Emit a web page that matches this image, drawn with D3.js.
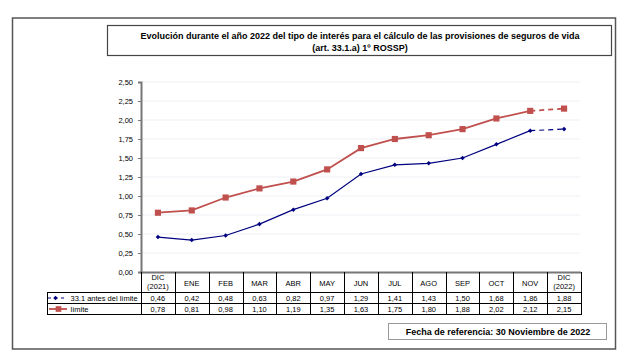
<!DOCTYPE html>
<html>
<head>
<meta charset="utf-8">
<script src="https://cdn.jsdelivr.net/npm/d3@7"></script>
<style>
  body { margin: 0; background: #fff; }
  svg { display: block; }
  text { font-family: Arial, "Liberation Sans", sans-serif; fill: #000; }
</style>
</head>
<body>
<div id="chart"></div>
<script>
// Tipos de interés 2022 (art. 33.1.a ROSSP)
const months = ['DIC|(2021)', 'ENE', 'FEB', 'MAR', 'ABR', 'MAY', 'JUN', 'JUL', 'AGO', 'SEP', 'OCT', 'NOV', 'DIC|(2022)'];
const antesLimite = [0.46, 0.42, 0.48, 0.63, 0.82, 0.97, 1.29, 1.41, 1.43, 1.50, 1.68, 1.86, 1.88];
const limite = [0.78, 0.81, 0.98, 1.10, 1.19, 1.35, 1.63, 1.75, 1.80, 1.88, 2.02, 2.12, 2.15];
const yTicks = [0, 0.25, 0.5, 0.75, 1, 1.25, 1.5, 1.75, 2, 2.25, 2.5];
const seriesNames = ['33.1 antes del límite', 'límite'];

const W = 628, H = 364;
const BLUE = '#000080', RED = '#c0504d';

const esLocale = d3.formatLocale({ decimal: ',', thousands: '.', grouping: [3], currency: ['', ' €'] });
const fmt = esLocale.format('.2f');

const svg = d3.select('#chart').append('svg')
  .attr('width', W)
  .attr('height', H);

// outer frame
svg.append('rect')
  .attr('x', 12.5).attr('y', 18)
  .attr('width', 603).attr('height', 331)
  .attr('fill', '#fff')
  .attr('stroke', '#555')
  .attr('stroke-width', 1.5);

// title box
svg.append('rect')
  .attr('x', 107.5).attr('y', 25.5)
  .attr('width', 504).attr('height', 30)
  .attr('fill', '#fff')
  .attr('stroke', '#444')
  .attr('stroke-width', 1.2);

const titleLines = [
  ['Evolución durante el año 2022 del tipo de interés para el cálculo de las provisiones de seguros de vida', 38.5],
  ['(art. 33.1.a) 1º ROSSP)', 51]
];
svg.append('g')
  .selectAll('text')
  .data(titleLines)
  .join('text')
  .attr('x', 360)
  .attr('y', d => d[1])
  .attr('text-anchor', 'middle')
  .style('font-weight', 'bold')
  .style('font-size', '9px')
  .text(d => d[0]);

// scales
const x = d3.scaleBand()
  .domain(months)
  .range([141, 581])
  .padding(0);

const y = d3.scaleLinear()
  .domain([0, 2.5])
  .range([272, 82]);

const cx = d => x(d) + x.bandwidth() / 2;

// grid
svg.append('g')
  .selectAll('line')
  .data(yTicks.slice(1))
  .join('line')
  .attr('x1', 142).attr('x2', 580)
  .attr('y1', d => y(d)).attr('y2', d => y(d))
  .attr('stroke', '#eceff4')
  .attr('stroke-width', 1);

// y axis
const yAxis = svg.append('g')
  .attr('transform', 'translate(141,0)')
  .call(d3.axisLeft(y).tickValues(yTicks).tickFormat(fmt).tickSizeOuter(0).tickSize(3).tickPadding(5));
yAxis.select('.domain').attr('stroke', '#777').attr('stroke-width', 2);
yAxis.selectAll('.tick line').attr('stroke', '#777');
yAxis.selectAll('.tick text').style('font-size', '7.5px').attr('fill', '#000');

// x axis base line
svg.append('line')
  .attr('x1', 140).attr('x2', 581)
  .attr('y1', 272.5).attr('y2', 272.5)
  .attr('stroke', '#777')
  .attr('stroke-width', 2);

// lines
const drawSeries = (values, color, width, marker) => {
  const pts = months.map((m, i) => [cx(m), y(values[i])]);
  const g = svg.append('g');
  g.append('path')
    .datum(pts.slice(0, 12))
    .attr('d', d3.line())
    .attr('fill', 'none')
    .attr('stroke', color)
    .attr('stroke-width', width);
  g.append('path')
    .datum(pts.slice(11))
    .attr('d', d3.line())
    .attr('fill', 'none')
    .attr('stroke', color)
    .attr('stroke-width', width)
    .attr('stroke-dasharray', '5,4');
  g.selectAll('path.mk')
    .data(pts)
    .join('path')
    .attr('class', 'mk')
    .attr('transform', d => `translate(${d[0]},${d[1]})`)
    .attr('d', marker)
    .attr('fill', color);
};

const diamond = d3.symbol(d3.symbolDiamond2, 13)();
drawSeries(limite, RED, 1.8, d3.symbol(d3.symbolSquare, 38)());
drawSeries(antesLimite, BLUE, 1.2, diamond);

// data table
const rowTop = [272, 292, 303, 314];
const table = svg.append('g');

// header labels
months.forEach(m => {
  const parts = m.split('|');
  const t = table.append('text')
    .attr('text-anchor', 'middle')
    .style('font-size', '7.5px');
  if (parts.length === 2) {
    t.append('tspan').attr('x', cx(m)).attr('y', 280).text(parts[0]);
    t.append('tspan').attr('x', cx(m)).attr('y', 289).text(parts[1]);
  } else {
    t.append('tspan').attr('x', cx(m)).attr('y', 285.5).text(parts[0]);
  }
});

// vertical borders
const edges = months.map(m => x(m)).concat([x.range()[1]]);
table.selectAll('line.v')
  .data(edges)
  .join('line')
  .attr('class', 'v')
  .attr('x1', d => Math.round(d) + 0.5)
  .attr('x2', d => Math.round(d) + 0.5)
  .attr('y1', rowTop[0]).attr('y2', rowTop[3])
  .attr('stroke', '#000').attr('stroke-width', 1);

// horizontal borders
[rowTop[1], rowTop[2], rowTop[3]].forEach(yy => {
  table.append('line')
    .attr('x1', 47).attr('x2', 582)
    .attr('y1', yy + 0.5).attr('y2', yy + 0.5)
    .attr('stroke', '#000').attr('stroke-width', 1);
});
table.append('line')
  .attr('x1', 47.5).attr('x2', 47.5)
  .attr('y1', rowTop[1]).attr('y2', rowTop[3] + 1)
  .attr('stroke', '#000').attr('stroke-width', 1);

// rows
[antesLimite, limite].forEach((vals, r) => {
  const yy = rowTop[r + 1] + 8.5;
  table.append('g')
    .selectAll('text')
    .data(vals)
    .join('text')
    .attr('x', (d, i) => cx(months[i]))
    .attr('y', yy)
    .attr('text-anchor', 'middle')
    .style('font-size', '7.5px')
    .text(d => fmt(d));
});

// legend keys inside the table
const k1 = (rowTop[1] + rowTop[2]) / 2 + 0.5;
const k2 = (rowTop[2] + rowTop[3]) / 2 + 0.5;
table.append('line')
  .attr('x1', 48).attr('x2', 67).attr('y1', k1).attr('y2', k1)
  .attr('stroke', BLUE).attr('stroke-width', 1.2).attr('stroke-dasharray', '3,3.5');
table.append('path')
  .attr('transform', `translate(55.5,${k1})`)
  .attr('d', diamond)
  .attr('fill', BLUE);
table.append('line')
  .attr('x1', 49).attr('x2', 67).attr('y1', k2).attr('y2', k2)
  .attr('stroke', RED).attr('stroke-width', 1.8);
table.append('path')
  .attr('transform', `translate(58.5,${k2})`)
  .attr('d', d3.symbol(d3.symbolSquare, 32)())
  .attr('fill', RED);
seriesNames.forEach((n, i) => {
  table.append('text')
    .attr('x', 70.5)
    .attr('y', rowTop[i + 1] + 8.5)
    .style('font-size', '7.5px')
    .text(n);
});

// reference date box
svg.append('rect')
  .attr('x', 388.5).attr('y', 323.5)
  .attr('width', 218).attr('height', 16)
  .attr('fill', '#fff')
  .attr('stroke', '#999')
  .attr('stroke-width', 1);
svg.append('text')
  .attr('x', 498).attr('y', 334.5)
  .attr('text-anchor', 'middle')
  .style('font-size', '9px')
  .style('font-weight', 'bold')
  .text('Fecha de referencia: 30 Noviembre de 2022');
</script>
</body>
</html>
